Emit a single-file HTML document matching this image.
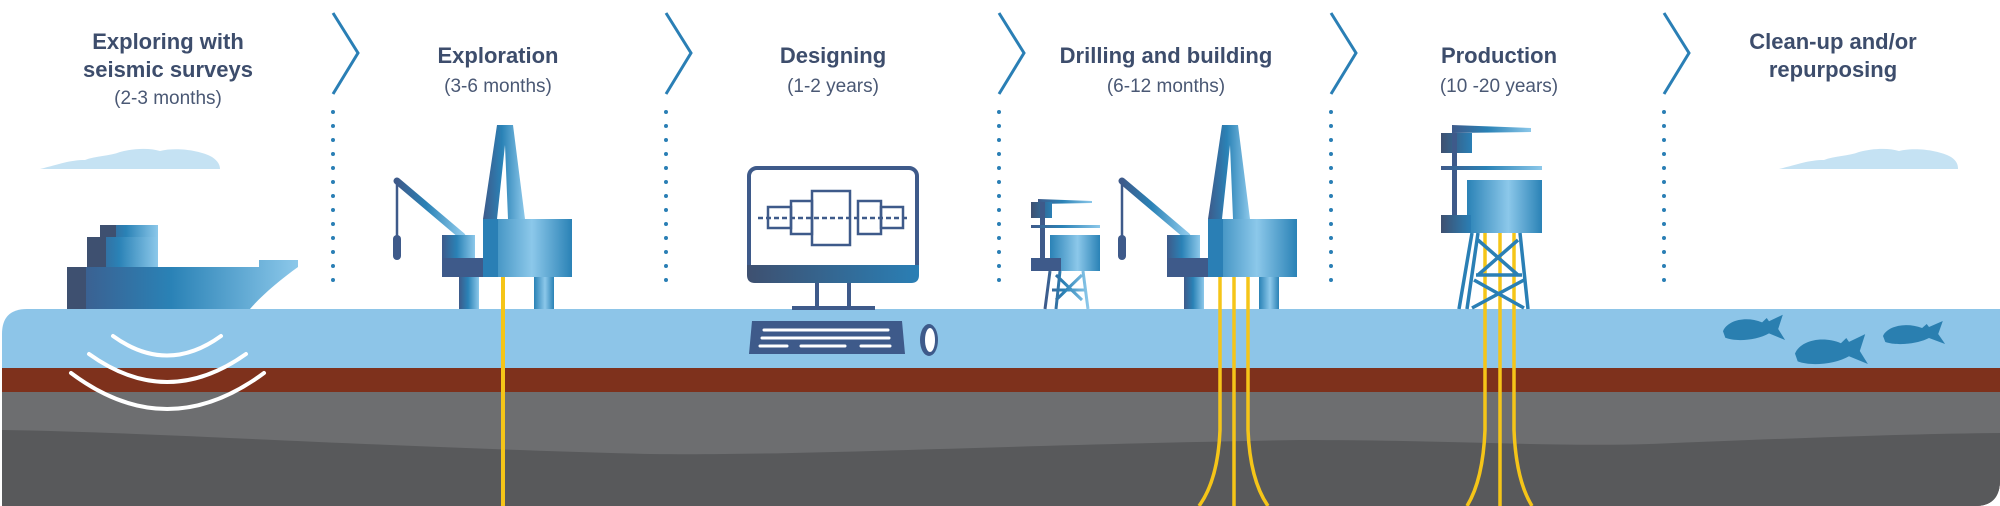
<!DOCTYPE html>
<html><head><meta charset="utf-8"><style>
html,body{margin:0;padding:0;background:#fff}
svg{display:block}
.h{font-family:"Liberation Sans",sans-serif;font-weight:bold;font-size:22px;fill:#3d4d6c;text-anchor:middle}
.s{font-family:"Liberation Sans",sans-serif;font-size:19px;fill:#4a5874;text-anchor:middle}
</style></head><body>
<svg width="2000" height="506" viewBox="0 0 2000 506" xmlns="http://www.w3.org/2000/svg">
<defs>
<linearGradient id="g" x1="0" x2="1" y1="0" y2="0"><stop offset="0" stop-color="#3e5a8a"/><stop offset="0.45" stop-color="#2a82b6"/><stop offset="1" stop-color="#8cc8ea"/></linearGradient>
<linearGradient id="g2" x1="0" x2="1" y1="0" y2="0"><stop offset="0" stop-color="#2a82b6"/><stop offset="0.55" stop-color="#8cc8ea"/><stop offset="1" stop-color="#2a82b6"/></linearGradient>
<linearGradient id="gd" x1="0" x2="1"><stop offset="0" stop-color="#3e5070"/><stop offset="1" stop-color="#2a7fb5"/></linearGradient>
<g id="rig">
<line x1="1122" y1="181" x2="1187" y2="236" stroke="url(#g)" stroke-width="7" stroke-linecap="round"/>
<line x1="1122" y1="181" x2="1122" y2="238" stroke="#3e5a8a" stroke-width="2.5"/>
<rect x="1118" y="235" width="8" height="25" rx="4" fill="#3e5a8a"/>
<polygon points="1222,125 1238,125 1250,219 1233,219 1230,145 1222,219 1208,219" fill="url(#g)"/>
<rect x="1167" y="235" width="33" height="42" fill="url(#g)"/>
<rect x="1167" y="258" width="45" height="19" fill="#3e5a8a"/>
<rect x="1208" y="219" width="89" height="58" fill="url(#g2)"/>
<rect x="1208" y="219" width="15" height="58" fill="#2a7fb5"/>
<rect x="1184" y="277" width="20" height="32" fill="url(#g)"/>
<rect x="1259" y="277" width="20" height="32" fill="url(#g2)"/>
</g>
<g id="fish"><path d="M0,12 C4,2 20,-2 34,4 L38,0 L40,3 L52,-3 L48,10 L54,20 L40,14 C30,20 12,22 2,18 Z" fill="#2a7fb0"/></g>
</defs>

<path d="M2,334 Q2,309 27,309 L2000,309 L2000,480 Q2000,506 1975,506 L2,506 Z" fill="#8dc5e8"/>
<path d="M2,368 L2000,368 L2000,480 Q2000,506 1975,506 L2,506 Z" fill="#7e311c"/>
<path d="M2,392 L2000,392 L2000,480 Q2000,506 1975,506 L2,506 Z" fill="#6d6e70"/>
<path d="M2,430 C150,432 350,446 650,454 C800,456 1000,445 1300,440 C1450,440 1550,447 1650,444 C1800,438 1900,434 2000,433 L2000,480 Q2000,506 1975,506 L2,506 Z" fill="#58595b"/>

<g fill="none" stroke="#2a7fb5" stroke-width="3">
<polyline points="333,13 358,53 333,94"/>
<polyline points="666,13 691,53 666,94"/>
<polyline points="999,13 1024,53 999,94"/>
<polyline points="1331,13 1356,53 1331,94"/>
<polyline points="1664,13 1689,53 1664,94"/>
</g>
<g stroke="#2a7fb5" stroke-width="4" stroke-linecap="round" stroke-dasharray="0 14">
<line x1="333" y1="112" x2="333" y2="293"/>
<line x1="666" y1="112" x2="666" y2="293"/>
<line x1="999" y1="112" x2="999" y2="293"/>
<line x1="1331" y1="112" x2="1331" y2="293"/>
<line x1="1664" y1="112" x2="1664" y2="293"/>
</g>

<text class="h" x="168" y="49">Exploring with</text>
<text class="h" x="168" y="77">seismic surveys</text>
<text class="s" x="168" y="104">(2-3 months)</text>
<text class="h" x="498" y="63">Exploration</text>
<text class="s" x="498" y="92">(3-6 months)</text>
<text class="h" x="833" y="63">Designing</text>
<text class="s" x="833" y="92">(1-2 years)</text>
<text class="h" x="1166" y="63">Drilling and building</text>
<text class="s" x="1166" y="92">(6-12 months)</text>
<text class="h" x="1499" y="63">Production</text>
<text class="s" x="1499" y="92">(10 -20 years)</text>
<text class="h" x="1833" y="49">Clean-up and/or</text>
<text class="h" x="1833" y="77">repurposing</text>

<path d="M40,169 C60,164 70,160 85,160 C95,156 110,156 120,152 C135,148 150,148 160,151 C175,147 200,150 212,157 C218,161 220,165 220,169 Z" fill="#c5e2f3"/>
<path d="M1779,169 C1799,164 1809,160 1824,160 C1834,156 1849,156 1859,152 C1874,148 1889,148 1899,151 C1914,147 1939,150 1951,157 C1957,161 1958,165 1958,169 Z" fill="#c5e2f3"/>

<path d="M67,267 L259,267 L259,260 L298,260 L298,267 C280,280 262,295 250,309 L67,309 Z" fill="url(#g)"/>
<rect x="67" y="267" width="19" height="42" fill="#3e5070"/>
<rect x="87" y="237" width="71" height="30" fill="url(#g)"/>
<rect x="100" y="225" width="58" height="12" fill="url(#g)"/>
<rect x="87" y="237" width="19" height="30" fill="#3e5070"/>
<rect x="100" y="225" width="16" height="12" fill="#3e5070"/>

<g fill="none" stroke="#fff" stroke-width="4" stroke-linecap="round">
<path d="M113,336 Q167,375 221,336"/>
<path d="M89,354 Q167,410 246,354"/>
<path d="M71,373 Q167,445 264,373"/>
</g>

<line x1="503" y1="277" x2="503" y2="506" stroke="#f5c518" stroke-width="4"/>
<use href="#rig" transform="translate(-725,0)"/>

<rect x="749" y="168" width="168" height="113" rx="8" fill="#fff" stroke="#3e5a8a" stroke-width="4"/>
<path d="M747,265 L919,265 L919,275 Q919,283 911,283 L755,283 Q747,283 747,275 Z" fill="url(#gd)"/>
<rect x="815" y="283" width="4" height="25" fill="#3e5a8a"/>
<rect x="847" y="283" width="4" height="25" fill="#3e5a8a"/>
<rect x="792" y="306" width="83" height="4" fill="#3e5a8a"/>
<g fill="none" stroke="#3e5a8a" stroke-width="2.5">
<rect x="768" y="207" width="23" height="21"/>
<rect x="791" y="201" width="21" height="33"/>
<rect x="812" y="191" width="38" height="54"/>
<rect x="858" y="201" width="23" height="33"/>
<rect x="881" y="207" width="22" height="21"/>
<line x1="758" y1="218" x2="908" y2="218" stroke-dasharray="5 3"/>
</g>
<path d="M752,321 L902,321 L905,354 L749,354 Z" fill="#3e5a8a"/>
<g stroke="#fff" stroke-width="3" stroke-linecap="round">
<line x1="764" y1="330" x2="888" y2="330"/>
<line x1="762" y1="338" x2="889" y2="338"/>
<line x1="760" y1="346" x2="787" y2="346"/>
<line x1="801" y1="346" x2="845" y2="346"/>
<line x1="861" y1="346" x2="890" y2="346"/>
</g>
<ellipse cx="929" cy="340" rx="9" ry="16" fill="#3e5a8a"/>
<ellipse cx="930" cy="340" rx="5" ry="12" fill="#fff"/>

<polygon points="1038,199 1092,201 1092,203 1038,204" fill="url(#g)"/>
<rect x="1031" y="202" width="21" height="16" fill="url(#gd)"/>
<rect x="1040" y="202" width="5" height="58" fill="#3e5a8a"/>
<rect x="1031" y="225" width="69" height="3" fill="url(#g)"/>
<rect x="1050" y="235" width="50" height="36" fill="url(#g2)"/>
<rect x="1031" y="258" width="30" height="13" fill="#3e5a8a"/>
<g stroke="url(#g)" stroke-width="3" fill="none">
<path d="M1050,271 L1045,309 M1083,271 L1088,309 M1060,271 L1056,309 M1056,275 L1082,300 M1082,275 L1056,300 M1052,290 L1086,290"/>
</g>

<g fill="none" stroke="#f5c518" stroke-width="3.5">
<path d="M1220,277 L1220,430 Q1218,480 1199,506"/>
<path d="M1234,277 L1234,506"/>
<path d="M1248,277 L1248,430 Q1250,480 1268,506"/>
</g>
<use href="#rig"/>

<g fill="none" stroke="#f5c518" stroke-width="3.5">
<path d="M1485,233 L1485,430 Q1483,480 1467,506"/>
<path d="M1500,233 L1500,506"/>
<path d="M1514,233 L1514,430 Q1516,480 1532,506"/>
</g>
<polygon points="1452,125 1531,128 1531,132 1452,133" fill="url(#g)"/>
<rect x="1441" y="133" width="31" height="20" fill="url(#gd)"/>
<rect x="1452" y="133" width="5" height="85" fill="#3e5a8a"/>
<rect x="1441" y="166" width="101" height="4" fill="url(#g)"/>
<rect x="1467" y="180" width="75" height="53" fill="url(#g2)"/>
<rect x="1441" y="215" width="30" height="18" fill="url(#gd)"/>
<g stroke="#2a7fb5" stroke-width="3.5" fill="none">
<path d="M1472,233 L1459,309 M1520,233 L1528,309 M1478,233 L1467,309"/>
<path d="M1478,240 L1518,275 M1518,240 L1478,275 M1476,275 L1522,275 M1474,280 L1524,308 M1524,280 L1472,308"/>
</g>

<use href="#fish" transform="translate(1723,318) scale(1.15,1.1)"/>
<use href="#fish" transform="translate(1795,338) scale(1.35,1.3)"/>
<use href="#fish" transform="translate(1883,324) scale(1.15,1)"/>
</svg>
</body></html>
